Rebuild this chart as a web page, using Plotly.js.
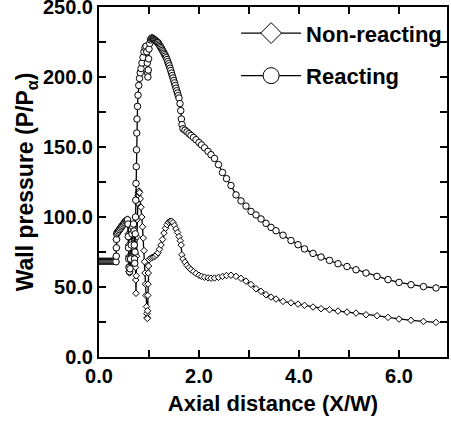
<!DOCTYPE html>
<html>
<head>
<meta charset="utf-8">
<script src="https://cdn.plot.ly/plotly-3.0.1.min.js"></script>
<style>html,body{margin:0;padding:0;background:#fff;}#chart{width:451px;height:423px;}</style>
</head>
<body>
<div id="chart"></div>
<script>
// Series names
var seriesNames = ["Non-reacting", "Reacting"];

// Tick positions / labels
var xTickVals = [0, 1, 2, 3, 4, 5, 6];
var xTickText = ["0.0", "", "2.0", "", "4.0", "", "6.0"];
var yTickVals = [0, 25, 50, 75, 100, 125, 150, 175, 200, 225, 250];
var yTickText = ["0.0", "", "50.0", "", "100.0", "", "150.0", "", "200.0", "", "250.0"];

// Non-reacting: upstream / injector region
var nonReactEarlyX = [
  0.00, 0.02, 0.04, 0.06, 0.08, 0.10, 0.12, 0.14, 0.16, 0.18,
  0.20, 0.22, 0.24, 0.26, 0.28, 0.30, 0.32, 0.34, 0.345, 0.348,
  0.35, 0.355, 0.37, 0.39, 0.41, 0.43, 0.45, 0.47, 0.49, 0.51,
  0.53, 0.55, 0.57, 0.58, 0.585, 0.59, 0.595, 0.60, 0.605, 0.61,
  0.62, 0.63, 0.645, 0.66, 0.68, 0.70, 0.71, 0.72, 0.725, 0.73,
  0.735, 0.74, 0.745, 0.75, 0.755, 0.76, 0.77, 0.78, 0.79, 0.80,
  0.81, 0.825, 0.84, 0.855, 0.87, 0.885, 0.90, 0.91, 0.92, 0.93,
  0.94, 0.95, 0.958, 0.964, 0.968, 0.972, 0.976, 0.98, 0.985, 0.99,
  1.00, 1.03, 1.06, 1.09, 1.12, 1.15, 1.18, 1.21, 1.24, 1.27,
  1.30, 1.33, 1.36, 1.39, 1.42, 1.45, 1.48, 1.51, 1.54, 1.57,
  1.60, 1.625, 1.643, 1.657
];
var nonReactEarlyY = [
  68.3, 68.3, 68.3, 68.3, 68.3, 68.3, 68.3, 68.3, 68.3, 68.3,
  68.3, 68.3, 68.3, 68.3, 68.3, 68.3, 68.3, 68.0, 72, 78,
  84, 88, 89.5, 90.5, 91.5, 92.5, 93.5, 94.5, 95.5, 96.5,
  97.5, 98, 98.5, 96, 88, 80, 72, 65, 61, 60,
  64, 72, 82, 89, 93, 95, 92, 84, 74, 64,
  55, 45.5, 58, 72, 86, 98, 110, 115.5, 117.5, 118.5,
  117.5, 113, 107, 100, 93, 85, 76, 68, 60, 52,
  44, 36, 31, 28, 27.5, 33, 44, 52, 60, 65,
  69.5, 70.5, 71, 71.5, 72, 73, 74.5, 77, 80, 84,
  88.5, 92, 94.5, 96.2, 97, 97, 96, 94, 91.5, 89,
  86, 83, 80, 73
];

// Reacting: upstream / injector / combustion region
var reactEarlyX = [
  0.00, 0.02, 0.04, 0.06, 0.08, 0.10, 0.12, 0.14, 0.16, 0.18,
  0.20, 0.22, 0.24, 0.26, 0.28, 0.30, 0.32, 0.34, 0.345, 0.348,
  0.35, 0.355, 0.37, 0.39, 0.41, 0.43, 0.45, 0.47, 0.49, 0.51,
  0.53, 0.55, 0.57, 0.58, 0.585, 0.59, 0.595, 0.60, 0.61, 0.62,
  0.63, 0.645, 0.66, 0.675, 0.69, 0.70, 0.705, 0.71, 0.715, 0.72,
  0.725, 0.73, 0.735, 0.74, 0.745, 0.75, 0.755, 0.76, 0.77, 0.78,
  0.795, 0.81, 0.825, 0.84, 0.86, 0.88, 0.90, 0.92, 0.94, 0.955,
  0.965, 0.972, 0.978, 0.985, 0.992, 1.00, 1.015, 1.03, 1.045, 1.06,
  1.075, 1.09, 1.105, 1.12, 1.135, 1.15, 1.165, 1.18, 1.195, 1.21,
  1.225, 1.24, 1.255, 1.27, 1.285, 1.30, 1.315, 1.33, 1.345, 1.36,
  1.375, 1.39, 1.405, 1.42, 1.435, 1.45, 1.465, 1.48, 1.495, 1.51,
  1.525, 1.54, 1.555, 1.57, 1.585, 1.60, 1.62, 1.635, 1.648, 1.66
];
var reactEarlyY = [
  68.3, 68.3, 68.3, 68.3, 68.3, 68.3, 68.3, 68.3, 68.3, 68.3,
  68.3, 68.3, 68.3, 68.3, 68.3, 68.3, 68.3, 68.0, 72, 78,
  84, 88, 89, 90, 91, 92, 93, 94, 95, 96,
  97, 97.5, 98, 95, 86, 78, 70, 64, 61, 63,
  70, 80, 88, 93, 95, 90, 80, 70, 67, 75,
  88, 100, 112, 124, 136, 148, 160, 170, 179, 187,
  194, 199, 203, 206, 210, 214, 218, 221, 222, 218,
  210, 203, 200, 205, 213, 220, 224, 226.5, 227.5, 228,
  227.5, 227, 226.7, 226.3, 225.8, 225.3, 224.9, 224.5, 223.6, 222.7,
  221.8, 221, 220, 219, 218, 217, 216, 215, 213.8, 212.5,
  211, 209.5, 208, 206.3, 204.6, 202.8, 201, 199.3, 197.5, 195.8,
  193.9, 192, 190.2, 188.5, 186.7, 185, 181, 176, 170, 166
];

// Downstream stations shared by both series
var tailX = [
  1.68, 1.72, 1.76, 1.80, 1.84, 1.89, 1.94, 2.00, 2.05, 2.11,
  2.18, 2.24, 2.31, 2.39, 2.47, 2.55, 2.64, 2.74, 2.84, 2.94,
  3.04, 3.14, 3.24, 3.34, 3.44, 3.54, 3.68, 3.84, 3.98, 4.11,
  4.28, 4.44, 4.61, 4.78, 4.96, 5.14, 5.34, 5.56, 5.78, 6.00,
  6.24, 6.49, 6.74
];
var nonReactTailY = [
  70, 67.8, 65.5, 63.8, 62.4, 61, 59.7, 58.4, 57.6, 57.0,
  56.5, 56.3, 56.4, 56.9, 57.6, 58.2, 58.4, 57.6, 56.2, 54.2,
  51.8, 48.8, 46.9, 44.5, 42.8, 41.4, 39.7, 38.7, 37.8, 36.9,
  35.7, 34.5, 33.8, 32.8, 32.1, 31.4, 30.2, 29.5, 28.3, 27.1,
  26.2, 25.4, 24.7
];
var reactTailY = [
  163, 162, 160.8, 159.5, 158.3, 156.8, 155.2, 153.2, 151.5, 149.4,
  146.9, 144.5, 141.8, 137.4, 131.8, 127.4, 122.5, 115.8, 111.5, 107.8,
  104, 101.5, 98.6, 95.5, 92.6, 90.2, 87, 83.2, 80.2, 77.2,
  74, 71.4, 69, 66.6, 64.6, 62.3, 60, 57.6, 55.3, 53.3,
  51.6, 50.3, 49.3
];

var FONT = "Liberation Sans, Arial, Helvetica, sans-serif";

var nonReact = {
  x: nonReactEarlyX.concat(tailX), y: nonReactEarlyY.concat(nonReactTailY),
  type: "scatter", mode: "lines+markers", name: seriesNames[0], showlegend: false,
  line: {color: "#000", width: 1.3},
  marker: {symbol: "diamond", size: 5, color: "#fff", line: {color: "#000", width: 1}}
};
var react = {
  x: reactEarlyX.concat(tailX), y: reactEarlyY.concat(reactTailY),
  type: "scatter", mode: "lines+markers", name: seriesNames[1], showlegend: false,
  line: {color: "#000", width: 1.3},
  marker: {symbol: "circle", size: 6.5, color: "#fff", line: {color: "#000", width: 1}}
};
// legend keys (bigger symbols, like the reference key)
var legNon = {
  x: [null], y: [null], type: "scatter", mode: "lines+markers", name: seriesNames[0],
  legendgroup: "a", line: {color: "#000", width: 1.3},
  marker: {symbol: "diamond", size: 16, color: "#fff", line: {color: "#000", width: 1}}
};
var legReact = {
  x: [null], y: [null], type: "scatter", mode: "lines+markers", name: seriesNames[1],
  legendgroup: "b", line: {color: "#000", width: 1.3},
  marker: {symbol: "circle", size: 16, color: "#fff", line: {color: "#000", width: 1}}
};

var layout = {
  width: 451, height: 423,
  margin: {l: 99, r: 4, t: 7, b: 66},
  paper_bgcolor: "#fff", plot_bgcolor: "#fff",
  font: {family: FONT, color: "#000", size: 20, weight: "bold"},
  showlegend: true,
  legend: {
    x: 0.394, xanchor: "left", y: 0.985, yanchor: "top",
    bgcolor: "rgba(0,0,0,0)", borderwidth: 0,
    font: {family: FONT, size: 22, weight: "bold", color: "#000"},
    itemwidth: 60, traceorder: "grouped", tracegroupgap: 11, itemsizing: "trace"
  },
  xaxis: {
    range: [0, 6.96], showgrid: false, zeroline: false,
    showline: true, linecolor: "#000", linewidth: 2, mirror: "ticks",
    ticks: "inside", ticklen: 7, tickwidth: 1.5, tickcolor: "#000",
    tickmode: "array", tickvals: xTickVals, ticktext: xTickText, ticklabeloverflow: "allow",
    tickfont: {family: FONT, size: 20, weight: "bold"},
    title: {text: "Axial distance (X/W)", font: {family: FONT, size: 22, weight: "bold"}, standoff: 10}
  },
  yaxis: {
    range: [0, 250], showgrid: false, zeroline: false,
    showline: true, linecolor: "#000", linewidth: 2, mirror: "ticks",
    ticks: "inside", ticklen: 7, tickwidth: 1.5, tickcolor: "#000",
    tickmode: "array", tickvals: yTickVals, ticktext: yTickText, ticklabeloverflow: "allow",
    tickfont: {family: FONT, size: 20, weight: "bold"},
    title: {text: "Wall pressure (P/P<sub>α</sub>)", font: {family: FONT, size: 23, weight: "bold"}, standoff: 3}
  }
};

Plotly.newPlot("chart", [nonReact, react, legNon, legReact], layout, {staticPlot: true, displayModeBar: false});
</script>
</body>
</html>
